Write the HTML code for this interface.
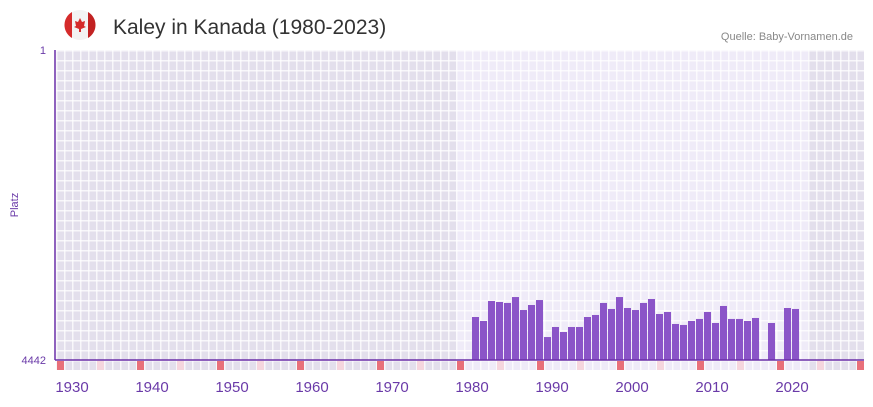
<!DOCTYPE html>
<html><head><meta charset="utf-8"><style>
body{margin:0;width:873px;height:402px;background:#fff;font-family:"Liberation Sans",sans-serif;overflow:hidden}
</style></head><body>
<svg width="873" height="402">
<defs>
<pattern id="grid" x="56" y="50" width="8" height="10" patternUnits="userSpaceOnUse">
<rect x="0" y="0" width="1.5" height="10" fill="#fff" opacity="0.75"/>
<rect x="0" y="0" width="8" height="1.5" fill="#fff" opacity="0.75"/>
</pattern>
</defs>
<g>
<circle cx="80" cy="25" r="15" fill="#f3f3f3"/>
<path d="M72 12 A15 15 0 0 0 72 38 Z" fill="#d52b2b"/>
<path d="M88 12 A15 15 0 0 1 88 38 Z" fill="#c22222"/>
<path d="M80 18 L82 22 L85 21 L84 26 L86 27 L81 29 L81 32 L79 32 L79 29 L74 27 L76 26 L75 21 L78 22 Z" fill="#d52b2b"/>
</g>
<text x="113" y="34" font-size="21" fill="#333">Kaley in Kanada (1980-2023)</text>
<text x="853" y="40" font-size="11" fill="#888" text-anchor="end">Quelle: Baby-Vornamen.de</text>
<g id="plot"></g>
<text x="46" y="54" font-size="11" fill="#6a3aa8" text-anchor="end">1</text>
<text x="46" y="364" font-size="11" fill="#6a3aa8" text-anchor="end">4442</text>
<text x="18" y="205" font-size="11" fill="#6a3aa8" text-anchor="middle" transform="rotate(-90 18 205)">Platz</text>
</svg>
<script>
const years=[1980,1981,1982,1983,1984,1985,1986,1987,1988,1989,1990,1991,1992,1993,1994,1995,1996,1997,1998,1999,2000,2001,2002,2003,2004,2005,2006,2007,2008,2009,2010,2011,2012,2013,2014,2015,2017,2019,2020];
const ranks=[3826,3883,3597,3611,3625,3540,3726,3654,3583,4113,3969,4041,3969,3969,3826,3797,3625,3711,3540,3697,3726,3625,3568,3783,3754,3926,3940,3883,3854,3754,3912,3668,3854,3854,3883,3840,3912,3697,3711];
const xTicks=[1930,1940,1950,1960,1970,1980,1990,2000,2010,2020];
const NS="http://www.w3.org/2000/svg";
const plot=document.getElementById('plot');
const x=y=>56+(y-1928)*8;
const yS=r=>50+(r-1)/4441*310;
function mk(t,a){const e=document.createElementNS(NS,t);for(const k in a)e.setAttribute(k,a[k]);plot.appendChild(e);return e;}
let bg=mk('rect',{x:56,y:50,width:808,height:320,fill:'#e3dfec'});


let lb=mk('rect',{x:x(1978),y:50,width:x(2022)-x(1978),height:320,fill:'#efebf8'});


mk('rect',{x:56,y:50,width:808,height:320,fill:'url(#grid)'});
for(let yr=1928;yr<=2028;yr++){
 const d=yr%10;
 if(d===8||d===3){
  const m=mk('rect',{x:x(yr)+1,y:361,width:7,height:9,fill:d===8?'#e8707a':'#f5d5dd'});
  
  
 }
}
years.forEach((yr,i)=>{
 const t=yS(ranks[i]);
 const b=mk('rect',{x:x(yr),y:t,width:7,height:360-t,fill:'#8b55c8'});
 
 
});
let ax=mk('line',{x1:55,y1:360,x2:864,y2:360,stroke:'#6a2fa8','stroke-width':1.5});


let ay=mk('line',{x1:55,y1:50,x2:55,y2:360,stroke:'#6a2fa8','stroke-width':1.5});


xTicks.forEach(t=>{
 const e=mk('text',{x:x(t),y:392,'font-size':15,fill:'#6a3aa8','text-anchor':'middle'});
 e.textContent=t;
 
 
});
</script>
</body></html>
